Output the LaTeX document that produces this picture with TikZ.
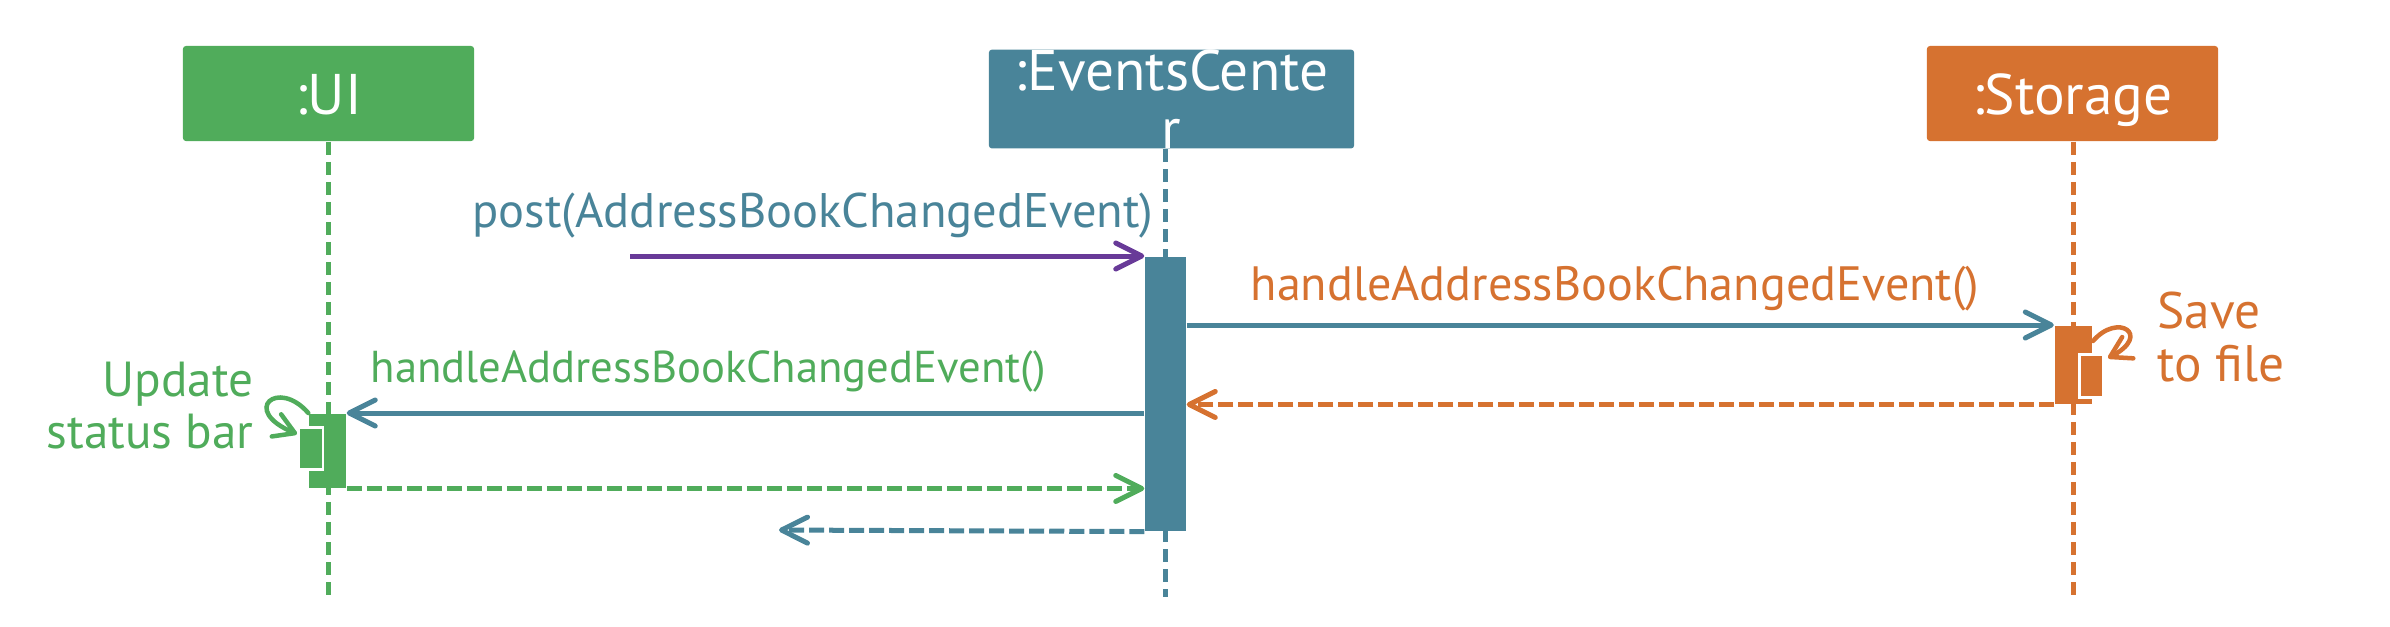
\documentclass[tikz,border=0pt]{standalone}
\usepackage{fontspec}
\setmainfont{PT Sans}
\usetikzlibrary{positioning, arrows.meta}

\definecolor{uigreen}{RGB}{80,172,91}
\definecolor{ecteal}{RGB}{73,132,153}
\definecolor{storange}{RGB}{214,114,48}
\definecolor{postpurple}{RGB}{104,58,152}

\tikzset{
    head/.style={rectangle, rounded corners=0.3mm, inner sep=0, text=white,
        font=\fontsize{16.3}{16.5}\selectfont, minimum width=2.91cm, minimum height=0.95cm},
    headone/.style={head, text height=0.45cm, text depth=0.04cm},
    lifeline/.style={line width=0.05cm, dash pattern=on 0.13cm off 0.07cm},
    actbar/.style={rectangle, inner sep=0, minimum width=0.37cm},
    subbar/.style={rectangle, inner sep=0, draw=white, line width=0.025cm, minimum width=0.24cm},
    msg/.style={line width=0.05cm, -{Straight Barb[length=2.6mm, width=2.6mm, round]}},
    reply/.style={msg, dash pattern=on 0.15cm off 0.05cm},
    selfmsg/.style={line width=0.045cm, line cap=round, -{Straight Barb[length=2mm, width=2.4mm, round]}},
    msglabel/.style={inner sep=0, anchor=base west, font=\fontsize{12.7}{15}\selectfont},
    note/.style={inner sep=0, font=\fontsize{14}{15}\selectfont},
}

\begin{document}
\begin{tikzpicture}[x=0.01cm, y=-0.01cm]
    \useasboundingbox (0,0) rectangle (2390,626);

    % heads
    \node[headone, fill=uigreen] (ui) at (328.5,93.5) {:UI};
    \node[head, fill=ecteal, minimum width=3.65cm, minimum height=0.96cm, align=center] (ec) at (1171.5,99) {:EventsCente\\r};
    \node[headone, fill=storange] (st) at (2072.5,93.5) {:Storage};

    % lifelines
    \foreach \x/\h/\c in {328/ui/uigreen, 1165.5/ec/ecteal, 2073/st/storange}
    {
        \draw[lifeline, \c] (\x,0 |- \h.south) -- (\x,597);
    }

    % activation bars
    \node[actbar, fill=ecteal, minimum width=0.41cm, minimum height=2.74cm, anchor=north] (ecact) at (1165.5,256) {};
    \node[actbar, fill=storange, minimum height=0.78cm, anchor=north] (stact) at (2073,325) {};
    \node[subbar, fill=storange, minimum height=0.43cm, anchor=north] (stsub) at (2091.5,353) {};
    \node[actbar, fill=uigreen, minimum height=0.74cm, anchor=north] (uiact) at (327.5,413) {};
    \node[subbar, fill=uigreen, minimum height=0.42cm, anchor=north] (uisub) at (311,426) {};

    % messages
    \coordinate (postsrc) at (630,256);
    \coordinate (retend) at (779,530);
    \draw[msg, postpurple] (postsrc) -- (ecact.north west);
    \draw[msg, ecteal] (ecact.east |- stact.north) -- (stact.north west);
    \draw[reply, storange] (stact.south west) -- (ecact.east |- stact.south);
    \draw[msg, ecteal] (ecact.west |- uiact.north) -- (uiact.north east);
    \draw[reply, uigreen] (uiact.south east) -- (ecact.west |- uiact.south);
    \draw[reply, ecteal] (ecact.south west) -- (retend);

    % self calls
    \coordinate (uiloop) at (297,434);
    \coordinate (stloopsrc) at (2093,341);
    \coordinate (stloop) at (2108,358);
    \draw[selfmsg, uigreen] (uiact.north west) .. controls (278,378) and (240,410) .. (uiloop);
    \draw[selfmsg, storange] (stloopsrc) .. controls (2118,312) and (2152,335) .. (stloop);

    % labels
    \node[msglabel, ecteal, font=\fontsize{13.8}{15}\selectfont] (postlbl) at (472,227) {post(AddressBookChangedEvent)};
    \node[msglabel, storange, font=\fontsize{13.7}{16}\selectfont] (stlbl) at (1250,300) {handleAddressBookChangedEvent()};
    \node[msglabel, uigreen] (uilbl) at (370,382) {handleAddressBookChangedEvent()};
    \node[note, uigreen, anchor=north east, align=right] (uinote) at (254,361) {Update\\status bar};
    \node[note, storange, anchor=north west, align=left, font=\fontsize{14.6}{15}\selectfont] (stnote) at (2157,291) {Save\\to file};
\end{tikzpicture}
\end{document}
